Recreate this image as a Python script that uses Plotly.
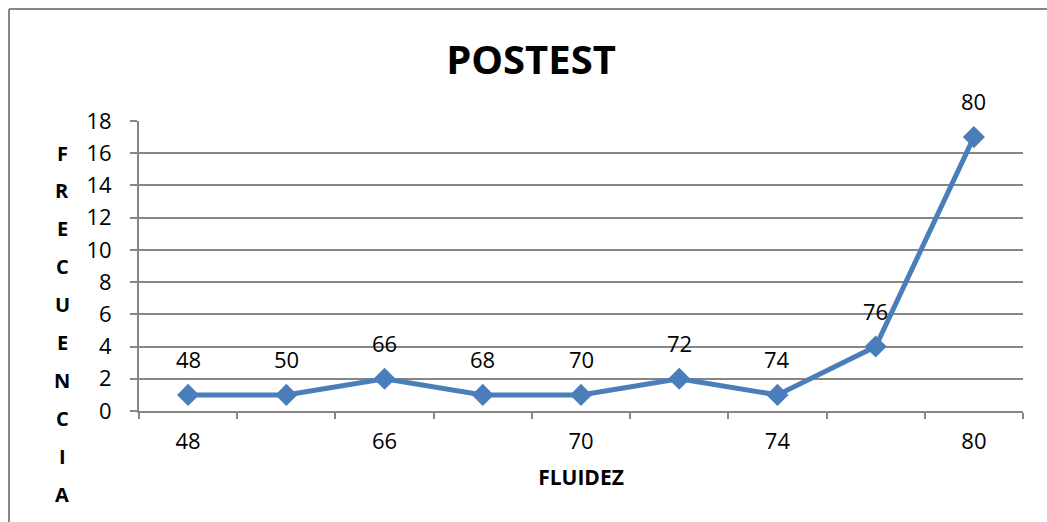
import plotly.graph_objects as go

# Puntajes de fluidez (categorías) y su frecuencia en el postest
categorias = ["48", "50", "66", "68", "70", "72", "74", "76", "80"]
frecuencia = [1, 1, 2, 1, 1, 2, 1, 4, 17]
etiquetas_eje_x = ["48", "66", "70", "74", "80"]
titulo_y = "FRECUENCIA"

W, H = 1047, 522
ML, MR, MT, MB = 139, 24, 121, 111
pw, ph = W - ML - MR, H - MT - MB

LINE = "#4A7EBB"
GRID = "#868686"
FONT = "Open Sans"

pos = list(range(len(categorias)))

fig = go.Figure()
fig.add_trace(go.Scatter(
    x=pos, y=frecuencia, mode="lines+markers",
    line=dict(color=LINE, width=5),
    marker=dict(symbol="diamond", size=17, color=LINE),
    hoverinfo="skip", showlegend=False,
))

# Etiquetas de datos: nombre de la categoría sobre cada punto
for xi, yi, c in zip(pos, frecuencia, categorias):
    fig.add_annotation(x=xi, y=yi, text=c, showarrow=False,
                       yanchor="middle", yshift=36,
                       font=dict(family=FONT, size=22, color="#000000"))

# Título del eje Y con letras apiladas
x_letras = (62 - ML) / pw
y0_px, paso = 153, 37.9
for i, letra in enumerate(titulo_y):
    ypx = y0_px + i * paso
    fig.add_annotation(x=x_letras, y=(H - MB - ypx) / ph, xref="paper", yref="paper",
                       text=f"<b>{letra}</b>", showarrow=False,
                       xanchor="center", yanchor="middle",
                       font=dict(family=FONT, size=20, color="#000000"))

# Borde del área del gráfico (izquierda y arriba)
bx = (9 - ML) / pw
by = (H - MB - 9) / ph
fig.add_shape(type="line", xref="paper", yref="paper", x0=bx, x1=bx, y0=by, y1=-1,
              line=dict(color=GRID, width=2))
fig.add_shape(type="line", xref="paper", yref="paper", x0=bx, x1=1.5, y0=by, y1=by,
              line=dict(color=GRID, width=2))

tickvals = [categorias.index(t) for t in etiquetas_eje_x]

fig.update_layout(
    width=W, height=H,
    margin=dict(l=ML, r=MR, t=MT, b=MB),
    paper_bgcolor="white", plot_bgcolor="white",
    font=dict(family=FONT, color="#000000"),
    title=dict(text="<b>POSTEST</b>", xref="container", x=531 / W, xanchor="center",
               yref="container", y=1 - 60 / H, yanchor="middle",
               font=dict(family=FONT, size=40, color="#000000")),
    xaxis=dict(
        range=[-0.5, len(categorias) - 0.5],
        tickmode="array", tickvals=tickvals, ticktext=etiquetas_eje_x,
        ticks="", showgrid=False, zeroline=False,
        showline=True, linecolor=GRID, linewidth=2,
        tickfont=dict(family=FONT, size=22),
        ticklabelstandoff=10,
        minor=dict(tickmode="linear", tick0=-0.5, dtick=1, ticks="outside",
                   ticklen=6, tickwidth=2, tickcolor=GRID, showgrid=False),
        title=dict(text="<b>FLUIDEZ</b>", font=dict(family=FONT, size=21), standoff=16),
        fixedrange=True,
    ),
    yaxis=dict(
        range=[0, 18], tick0=0, dtick=2,
        ticks="outside", ticklen=7, tickwidth=2, tickcolor=GRID,
        showgrid=True, gridcolor=GRID, gridwidth=1.5,
        zeroline=False, showline=True, linecolor=GRID, linewidth=2,
        tickfont=dict(family=FONT, size=22),
        ticklabelstandoff=14,
        fixedrange=True,
    ),
)

fig.write_html("out.html", config={"displayModeBar": False})
